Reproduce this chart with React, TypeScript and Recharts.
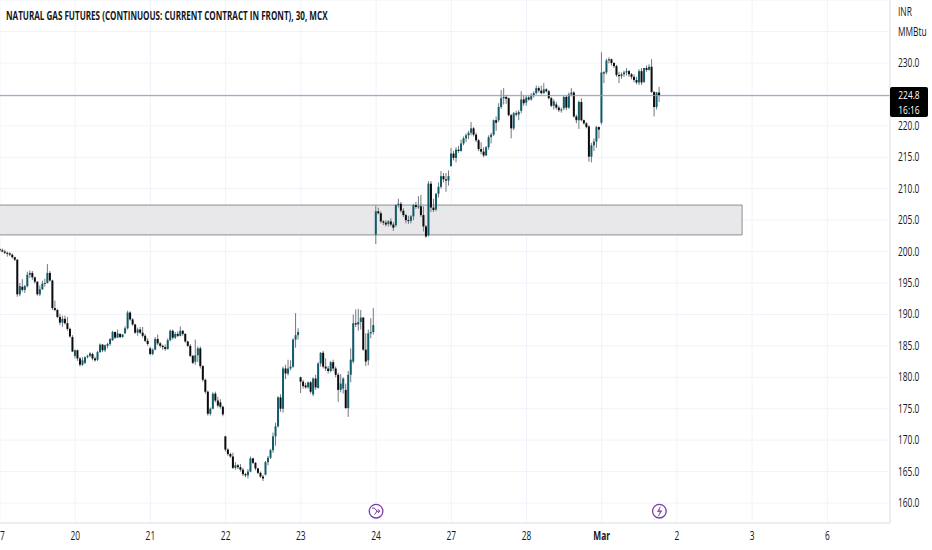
import { Bar, CartesianGrid, ComposedChart, ReferenceArea, ReferenceDot, ReferenceLine, XAxis, YAxis } from 'recharts'

// one row per session, 30 half hour bars each
const opens = [
  200.4, 200.2, 200.0, 199.8, 199.7, 199.5, 199.1, 198.7, 193.2, 194.4, 193.9, 194.5, 196.3, 196.6, 195.9, 195.2, 193.2, 194.0, 194.9, 195.0, 196.6, 195.4, 191.0, 190.7, 189.6, 188.7, 189.3, 188.6, 187.7, 186.4,
  183.4, 184.3, 183.0, 182.0, 182.3, 183.2, 183.4, 183.7, 183.0, 182.8, 184.0, 185.2, 184.3, 185.0, 185.3, 185.9, 187.2, 186.3, 186.9, 186.4, 187.0, 187.8, 190.3, 189.2, 188.4, 187.1, 187.6, 187.1, 186.6, 185.8,
  184.6, 183.7, 184.4, 186.1, 185.4, 185.0, 184.8, 184.5, 185.9, 187.4, 186.3, 186.9, 186.6, 187.4, 186.9, 185.7, 185.0, 183.4, 182.5, 183.5, 184.6, 181.8, 179.6, 177.7, 174.2, 175.0, 177.4, 176.3, 176.0, 175.3,
  170.6, 168.5, 167.8, 167.4, 165.6, 166.0, 165.7, 165.3, 164.6, 164.4, 165.0, 167.1, 166.4, 165.5, 164.8, 164.2, 164.5, 166.5, 167.2, 168.4, 170.6, 172.2, 176.8, 175.0, 181.4, 180.6, 181.4, 181.7, 186.0, 186.7,
  180.0, 179.3, 178.7, 178.4, 179.2, 177.3, 179.8, 178.3, 182.2, 183.9, 181.7, 181.4, 181.0, 182.4, 181.4, 180.4, 178.0, 178.2, 178.0, 175.1, 180.4, 182.5, 188.6, 188.4, 188.8, 189.5, 184.4, 182.7, 187.0, 187.2,
  202.7, 206.4, 206.1, 204.8, 204.6, 204.4, 204.8, 204.3, 204.2, 207.4, 207.6, 206.5, 205.8, 205.0, 204.9, 205.6, 207.4, 207.1, 207.2, 205.8, 204.0, 202.6, 210.8, 207.0, 206.7, 209.2, 210.3, 212.0, 211.5, 211.3,
  213.6, 215.6, 214.9, 216.2, 216.0, 217.2, 218.0, 218.5, 218.9, 219.6, 218.6, 217.7, 216.3, 215.9, 215.3, 216.6, 218.2, 218.6, 220.9, 220.9, 223.0, 224.4, 224.6, 224.4, 221.7, 219.6, 222.0, 221.8, 222.4, 224.2,
  223.7, 224.5, 224.2, 224.9, 225.2, 226.0, 225.6, 225.2, 225.8, 225.5, 224.4, 223.2, 223.4, 222.9, 222.5, 222.8, 224.6, 222.9, 225.0, 225.3, 221.5, 220.9, 223.8, 220.9, 220.4, 219.9, 215.1, 216.9, 217.5, 219.8,
  220.5, 228.5, 228.5, 230.4, 230.6, 230.0, 229.5, 228.1, 227.9, 228.2, 228.5, 228.7, 228.2, 227.8, 227.3, 226.9, 228.7, 227.0, 229.2, 228.9, 229.4, 225.4, 223.0, 225.3,
]
const highs = [
  200.6, 200.5, 200.3, 200.0, 199.9, 199.7, 199.2, 198.8, 195.0, 195.6, 194.7, 196.8, 197.0, 196.9, 196.0, 195.3, 194.6, 195.4, 195.7, 198.0, 196.9, 195.5, 192.2, 190.9, 190.1, 189.8, 189.8, 189.6, 187.9, 186.7,
  184.4, 184.4, 183.2, 183.2, 183.3, 183.6, 184.0, 183.9, 183.3, 184.2, 185.4, 185.3, 185.2, 185.5, 186.2, 187.4, 187.3, 187.6, 187.0, 186.9, 188.1, 190.6, 190.5, 189.4, 188.5, 187.9, 188.0, 188.0, 186.9, 186.2,
  184.9, 184.6, 186.4, 186.8, 185.6, 185.2, 185.2, 186.2, 187.6, 187.6, 187.2, 187.3, 188.1, 187.5, 187.0, 185.8, 185.3, 183.6, 186.0, 184.9, 184.9, 181.9, 179.8, 177.9, 175.2, 177.6, 177.7, 176.9, 176.5, 175.5,
  170.7, 168.7, 168.0, 168.0, 166.5, 166.2, 166.2, 165.6, 164.8, 165.4, 167.4, 167.2, 166.5, 165.6, 165.0, 164.5, 166.7, 167.5, 168.6, 171.2, 172.8, 177.0, 177.3, 181.7, 182.0, 182.8, 182.7, 186.2, 190.2, 187.8,
  180.1, 179.6, 179.1, 179.3, 179.4, 180.0, 180.4, 182.4, 184.0, 184.2, 183.0, 181.8, 182.6, 182.8, 181.7, 180.7, 180.5, 180.0, 179.0, 181.0, 184.6, 190.0, 190.8, 190.9, 190.7, 189.6, 187.0, 187.6, 189.4, 191.0,
  207.3, 207.0, 206.4, 205.0, 205.0, 205.0, 205.3, 204.7, 207.5, 208.4, 207.9, 206.9, 206.0, 205.7, 205.8, 207.6, 207.9, 208.8, 209.0, 207.2, 204.2, 211.2, 211.2, 208.4, 209.3, 211.0, 212.8, 212.5, 212.5, 212.9,
  216.5, 216.0, 216.6, 216.8, 217.8, 218.3, 218.8, 219.2, 220.6, 219.8, 218.9, 217.9, 217.4, 216.6, 216.8, 218.5, 218.9, 221.0, 221.5, 223.6, 225.7, 226.0, 224.9, 224.5, 221.9, 222.2, 222.4, 222.5, 225.5, 224.9,
  224.8, 224.8, 225.2, 225.5, 226.4, 226.3, 226.4, 226.8, 226.0, 225.7, 224.6, 224.2, 223.8, 223.2, 222.9, 224.8, 224.8, 225.3, 226.0, 225.5, 221.8, 224.0, 224.4, 221.0, 220.6, 220.1, 217.3, 218.0, 220.0, 219.9,
  231.7, 228.7, 230.7, 230.9, 230.7, 230.1, 229.7, 228.6, 228.5, 228.8, 229.2, 228.9, 228.4, 228.2, 227.8, 229.0, 229.2, 229.2, 229.6, 229.8, 230.6, 225.5, 225.4, 226.2,
]
const lows = [
  200.0, 199.9, 199.6, 199.2, 199.3, 198.9, 198.5, 192.8, 192.9, 193.6, 193.4, 194.3, 195.8, 195.5, 194.9, 193.0, 192.9, 193.9, 194.4, 194.9, 195.2, 190.7, 190.5, 189.4, 188.3, 188.0, 188.4, 187.4, 186.3, 184.0,
  183.0, 182.6, 181.7, 181.8, 182.1, 183.0, 183.2, 182.7, 182.5, 182.6, 183.9, 184.0, 184.0, 184.6, 185.0, 185.8, 186.1, 186.3, 186.2, 186.3, 186.9, 187.6, 189.0, 188.2, 186.9, 186.6, 186.9, 186.3, 185.6, 185.0,
  183.5, 183.5, 184.3, 185.1, 184.7, 184.4, 184.2, 184.4, 185.7, 186.0, 186.1, 186.4, 186.5, 186.6, 185.5, 184.8, 183.2, 182.1, 182.0, 182.4, 181.4, 179.3, 177.4, 173.9, 173.9, 174.9, 176.0, 175.2, 175.0, 173.8,
  168.2, 167.5, 167.2, 165.4, 165.3, 165.4, 165.0, 164.3, 164.1, 163.9, 164.9, 166.2, 165.2, 164.6, 164.0, 163.5, 164.4, 166.0, 167.0, 168.0, 169.1, 172.0, 174.5, 174.4, 179.7, 180.3, 181.1, 181.5, 184.7, 186.0,
  177.5, 178.2, 178.2, 178.2, 177.4, 177.0, 178.0, 178.2, 181.7, 181.4, 181.0, 180.6, 180.8, 181.0, 180.0, 176.1, 177.6, 177.4, 175.0, 173.7, 179.2, 182.2, 188.0, 187.4, 187.6, 184.2, 181.8, 181.9, 186.2, 186.8,
  201.2, 205.9, 204.5, 204.2, 204.0, 204.0, 204.0, 203.3, 203.9, 207.0, 206.2, 205.5, 204.5, 204.4, 204.5, 205.0, 206.8, 206.8, 205.5, 203.2, 202.2, 202.4, 206.3, 206.3, 206.4, 208.6, 210.0, 211.0, 209.5, 210.5,
  213.5, 214.5, 214.2, 215.7, 215.9, 216.9, 217.4, 217.9, 218.5, 218.3, 217.4, 216.0, 215.5, 215.0, 215.2, 216.2, 217.2, 218.4, 219.2, 220.6, 222.7, 223.4, 223.5, 221.5, 218.0, 219.3, 221.5, 220.9, 222.0, 223.2,
  223.2, 224.0, 224.0, 224.5, 225.0, 225.3, 225.0, 225.1, 225.3, 224.2, 223.0, 222.6, 222.6, 222.2, 222.1, 222.5, 222.5, 222.7, 224.7, 221.3, 220.4, 219.5, 220.7, 220.2, 219.6, 214.3, 214.2, 216.0, 216.5, 218.0,
  220.2, 226.8, 228.2, 229.9, 229.6, 229.2, 227.8, 226.8, 227.5, 227.8, 228.0, 227.8, 227.4, 226.9, 226.6, 226.5, 226.5, 226.8, 228.6, 228.8, 225.2, 221.5, 222.6, 223.8,
]
const closes = [
  200.2, 200.0, 199.8, 199.7, 199.5, 199.1, 198.7, 193.2, 194.5, 193.9, 194.5, 196.3, 196.6, 195.9, 195.2, 193.2, 194.0, 194.9, 195.0, 196.6, 195.4, 191.0, 190.7, 189.6, 188.7, 189.3, 188.6, 187.7, 186.5, 184.1,
  184.3, 183.0, 182.0, 182.7, 183.2, 183.4, 183.8, 183.0, 182.7, 184.0, 185.2, 184.3, 185.1, 185.3, 186.1, 187.2, 186.3, 187.0, 186.4, 186.8, 187.8, 190.3, 189.2, 188.4, 187.1, 187.6, 187.1, 186.6, 185.8, 185.3,
  183.7, 184.4, 186.1, 185.4, 185.0, 184.8, 184.5, 185.9, 187.4, 186.3, 186.9, 186.6, 187.4, 186.9, 185.7, 185.0, 183.4, 182.3, 183.5, 184.6, 181.8, 179.6, 177.7, 174.2, 175.0, 177.4, 176.3, 175.5, 175.3, 174.1,
  168.5, 167.8, 167.4, 165.6, 166.0, 165.7, 165.3, 164.6, 164.4, 165.0, 167.1, 166.4, 165.5, 164.8, 164.2, 163.9, 166.5, 167.2, 168.4, 170.6, 172.2, 176.8, 175.0, 181.4, 180.6, 181.4, 181.7, 186.0, 186.7, 187.2,
  179.3, 178.6, 178.4, 179.2, 177.7, 179.8, 178.4, 182.2, 183.9, 181.7, 181.4, 181.0, 182.4, 181.4, 180.4, 178.0, 179.0, 179.8, 175.1, 180.4, 182.8, 188.6, 188.4, 188.8, 189.5, 184.4, 182.5, 187.0, 187.2, 188.3,
  206.4, 206.1, 204.8, 204.6, 204.3, 204.8, 204.3, 203.8, 207.4, 207.6, 206.5, 205.8, 205.0, 204.9, 205.6, 207.4, 207.1, 207.2, 205.8, 204.0, 202.4, 210.8, 207.0, 206.6, 209.2, 210.3, 212.0, 211.5, 211.3, 212.0,
  215.6, 214.9, 216.2, 216.0, 217.2, 218.0, 218.5, 218.9, 219.6, 218.6, 217.7, 216.3, 215.9, 215.3, 216.6, 218.2, 218.6, 220.9, 220.5, 223.0, 224.4, 224.6, 224.3, 221.7, 219.6, 222.0, 221.8, 222.2, 224.2, 223.6,
  224.5, 224.2, 224.9, 225.2, 226.0, 225.6, 225.2, 225.8, 225.5, 224.4, 223.2, 223.9, 222.9, 222.5, 222.6, 224.6, 222.9, 225.0, 225.3, 221.5, 220.9, 223.8, 220.9, 220.4, 219.8, 215.1, 216.9, 217.5, 219.8, 219.4,
  228.5, 228.4, 230.4, 230.6, 230.0, 229.5, 228.1, 227.9, 228.2, 228.5, 228.7, 228.2, 227.8, 227.3, 226.9, 228.7, 226.9, 229.2, 228.9, 229.4, 225.4, 223.0, 225.3, 224.8,
]

const dayTicks = [-30, 0, 30, 60, 90, 120, 150, 180, 210, 240, 270, 300]
const dayLabels = ['7', '20', '21', '22', '23', '24', '27', '28', 'Mar', '2', '3', '6']
const priceTicks = [160, 165, 170, 175, 180, 185, 190, 195, 200, 205, 210, 215, 220, 225, 230, 235]
const lastPrice = 224.8
const countdown = '16:16'
const title = 'NATURAL GAS FUTURES (CONTINUOUS: CURRENT CONTRACT IN FRONT), 30, MCX'
const unitLabels = ['INR', 'MMBtu']

const zoneTop = 207.4
const zoneBottom = 202.65
const zoneEnd = 266
const splitBar = 120
const boltBar = 233
const markerPrice = 158.7

const candles = closes.map((close, i) => ({ t: i - 30, open: opens[i], high: highs[i], low: lows[i], close }))

const FONT = '"Open Sans", sans-serif'
const SQUEEZE = 0.7 // the axis text in the picture is much narrower than any installed font
const UP = '#0f5c6b'
const DOWN = '#0c0c0e'
const WICK = '#74777d'
const PURPLE = '#7b3fa6'

function Candle(props: any): React.ReactElement {
  const { x, y, width, height, payload } = props
  const perUnit = height / (payload.high - payload.low)
  const top = y + (payload.high - Math.max(payload.open, payload.close)) * perUnit
  const bodyH = Math.max(Math.abs(payload.open - payload.close) * perUnit, 1)
  const mid = x + width / 2
  return (
    <g>
      <line x1={mid} x2={mid} y1={y} y2={y + height} stroke={WICK} strokeWidth={1} />
      <rect x={mid - 1} y={top} width={2} height={bodyH} fill={payload.close >= payload.open ? UP : DOWN} />
    </g>
  )
}

function DayTick({ x, y, payload }: any): React.ReactElement {
  const label = dayLabels[dayTicks.indexOf(payload.value)]
  const first = payload.value === dayTicks[0]
  return (
    <text
      transform={`translate(${x} ${y + 9}) scale(${SQUEEZE} 1)`}
      textAnchor={first ? 'start' : 'middle'}
      fontFamily={FONT}
      fontSize={12}
      fill="#131722"
      fontWeight={label === 'Mar' ? 700 : 400}
    >
      {label}
    </text>
  )
}

function PriceTick({ x, y, payload }: any): React.ReactElement | null {
  // the last price tag sits on top of 225.0
  if (payload.value === 225) return null
  const label = payload.value === 235 ? unitLabels[1] : payload.value.toFixed(1)
  return (
    <text transform={`translate(${x - 6} ${y + 4}) scale(${SQUEEZE} 1)`} fontFamily={FONT} fontSize={12} fill="#131722">
      {label}
    </text>
  )
}

function SplitIcon({ cx, cy }: any): React.ReactElement {
  return (
    <g fill="none" stroke={PURPLE}>
      <circle cx={cx} cy={cy} r={6.8} strokeWidth={1.3} fill="#fff" />
      <path d={`M${cx - 4} ${cy - 3}h2.5l2.5 3l-2.5 3.5M${cx} ${cy}h3.8M${cx + 1.8} ${cy - 2}l2 2l-2 2`} strokeWidth={1} />
    </g>
  )
}

function BoltIcon({ cx, cy }: any): React.ReactElement {
  return (
    <g fill="none" stroke={PURPLE}>
      <circle cx={cx} cy={cy} r={6.8} strokeWidth={1.3} fill="#fff" />
      <path d={`M${cx + 1} ${cy - 4.5}l-3 5h3l-2 4.5l3.5 -5.5h-3z`} fill={PURPLE} strokeWidth={0.5} />
    </g>
  )
}

const tagLine: React.CSSProperties = {
  display: 'block',
  width: 38,
  height: 15,
  transform: 'scaleX(0.76)',
  transformOrigin: 'center',
  whiteSpace: 'nowrap',
}

export default function App(): React.ReactElement {
  return (
    <div style={{ position: 'absolute', left: 0, top: 0, width: 932, height: 550, overflow: 'hidden', background: '#fff', fontFamily: FONT }}>
      <ComposedChart width={932} height={550} data={candles} margin={{ top: 0, right: 0, bottom: 0, left: 0 }}>
        <CartesianGrid stroke="#f0f3fa" />
        <XAxis
          dataKey="t"
          type="number"
          domain={[-30, 325]}
          ticks={dayTicks}
          interval={0}
          height={27}
          tick={<DayTick />}
          tickLine={false}
          stroke="#e0e3eb"
        />
        <YAxis
          orientation="right"
          width={42}
          domain={[156.82, 240.02]}
          ticks={priceTicks}
          interval={0}
          allowDataOverflow
          tick={<PriceTick />}
          tickLine={false}
          tickMargin={8}
          stroke="#e0e3eb"
        />
        <ReferenceArea x1={-32} x2={zoneEnd} y1={zoneBottom} y2={zoneTop} ifOverflow="hidden" fill="#e8e8ea" fillOpacity={1} stroke="#8b8e95" />
        <ReferenceLine y={lastPrice} stroke="#9a9b9f" />
        <Bar dataKey={(d: any) => [d.low, d.high]} barSize={2} shape={<Candle />} isAnimationActive={false} />
        <ReferenceDot x={splitBar} y={markerPrice} shape={<SplitIcon />} />
        <ReferenceDot x={boltBar} y={markerPrice} shape={<BoltIcon />} />
      </ComposedChart>
      <div style={{ position: 'absolute', left: 6, top: 7, fontSize: 12.5, fontWeight: 700, color: '#131722', whiteSpace: 'nowrap', transform: 'scaleX(0.646)', transformOrigin: 'left' }}>
        {title}
      </div>
      <div style={{ position: 'absolute', left: 898, top: 3, fontSize: 12, color: '#131722', transform: `scaleX(${SQUEEZE})`, transformOrigin: 'left' }}>
        {unitLabels[0]}
      </div>
      <div style={{ position: 'absolute', left: 890, top: 87, width: 38, height: 30, background: '#000', borderRadius: 2, color: '#fff', fontSize: 11, lineHeight: '15px', textAlign: 'center' }}>
        <div style={tagLine}>{lastPrice.toFixed(1)}</div>
        <div style={tagLine}>{countdown}</div>
      </div>
    </div>
  )
}
